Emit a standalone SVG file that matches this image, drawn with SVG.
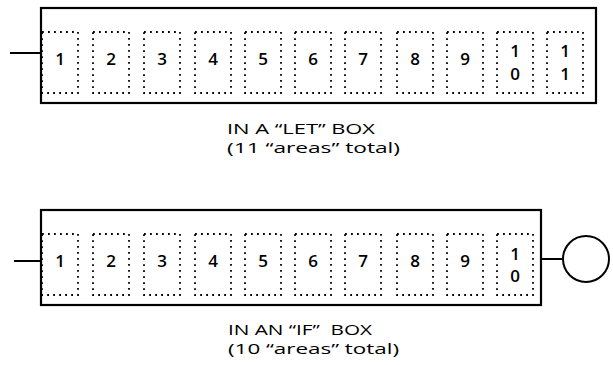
<svg xmlns="http://www.w3.org/2000/svg" width="613" height="365" viewBox="0 0 613 365">
<style>
.outer{fill:none;stroke:#000;stroke-width:2.2}
.cell{fill:none;stroke:#000;stroke-width:1.8;stroke-dasharray:1.8 4.2}
.dig{font-family:"Open Sans","Liberation Sans",sans-serif;font-size:17px;font-weight:600;text-anchor:middle;fill:#000}
.lab{font-family:"Open Sans","Liberation Sans",sans-serif;font-size:15px;font-weight:500;fill:#000;white-space:pre}
.con{fill:none;stroke:#000;stroke-width:2}
</style>
<defs>
<rect id="c" class="cell" x="0" y="0" width="36" height="61"/>
</defs>
<g id="let-box">
<rect class="outer" x="41" y="8" width="555" height="95"/>
<g id="let-cells">
<use href="#c" x="42" y="32"/><use href="#c" x="93" y="32"/><use href="#c" x="144" y="32"/><use href="#c" x="195" y="32"/><use href="#c" x="245" y="32"/><use href="#c" x="295" y="32"/><use href="#c" x="345" y="32"/><use href="#c" x="397" y="32"/><use href="#c" x="447" y="32"/><use href="#c" x="497" y="32"/><use href="#c" x="547" y="32"/>
</g>
<g class="dig">
<text x="60" y="65">1</text><text x="111" y="65">2</text><text x="162" y="65">3</text><text x="213" y="65">4</text><text x="263" y="65">5</text><text x="313" y="65">6</text><text x="363" y="65">7</text><text x="415" y="65">8</text><text x="465" y="65">9</text>
<text x="515" y="57">1</text><text x="515" y="80">0</text>
<text x="565" y="57">1</text><text x="565" y="80">1</text>
</g>
<text class="lab" x="227" y="134" textLength="148" lengthAdjust="spacingAndGlyphs">IN A “LET” BOX</text>
<text class="lab" x="227" y="153" textLength="173" lengthAdjust="spacingAndGlyphs">(11 “areas” total)</text>
</g>
<g id="if-box">
<rect class="outer" x="41" y="210" width="500" height="95"/>
<g id="if-cells">
<use href="#c" x="42" y="234"/><use href="#c" x="93" y="234"/><use href="#c" x="144" y="234"/><use href="#c" x="195" y="234"/><use href="#c" x="245" y="234"/><use href="#c" x="295" y="234"/><use href="#c" x="345" y="234"/><use href="#c" x="397" y="234"/><use href="#c" x="447" y="234"/><use href="#c" x="497" y="234"/>
</g>
<g class="dig">
<text x="60" y="267">1</text><text x="111" y="267">2</text><text x="162" y="267">3</text><text x="213" y="267">4</text><text x="263" y="267">5</text><text x="313" y="267">6</text><text x="363" y="267">7</text><text x="415" y="267">8</text><text x="465" y="267">9</text>
<text x="515" y="260">1</text><text x="515" y="282">0</text>
</g>
<text class="lab" x="228" y="335" textLength="144" lengthAdjust="spacingAndGlyphs">IN AN “IF”  BOX</text>
<text class="lab" x="228" y="354" textLength="171" lengthAdjust="spacingAndGlyphs">(10 “areas” total)</text>
</g>
<g id="circle-node">
<circle cx="586" cy="259" r="23" fill="none" stroke="#000" stroke-width="2"/>
</g>
<g id="connectors">
<line class="con" x1="10" y1="53" x2="41" y2="53"/>
<line class="con" x1="14" y1="261" x2="41" y2="261"/>
<line class="con" x1="541" y1="259" x2="563" y2="259"/>
</g>
</svg>
